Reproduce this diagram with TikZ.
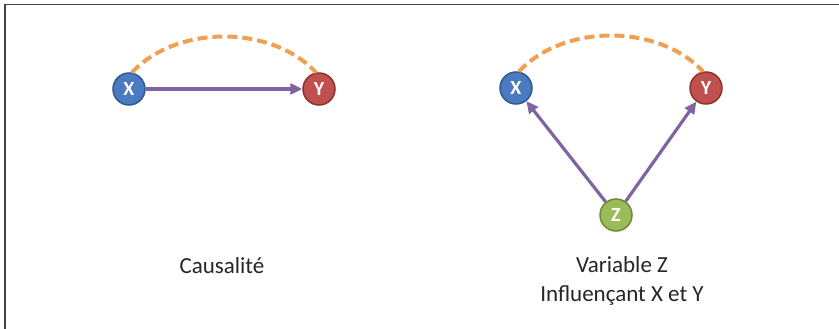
\documentclass[tikz,border=0pt]{standalone}
\usepackage{fontspec}
\setmainfont{Carlito}
\usetikzlibrary{arrows.meta}
\definecolor{xblue}{HTML}{4A7BC0}
\definecolor{xblueD}{HTML}{2F5A94}
\definecolor{yred}{HTML}{C0504D}
\definecolor{yredD}{HTML}{8C3330}
\definecolor{zgreen}{HTML}{9BBB59}
\definecolor{zgreenD}{HTML}{6E8A38}
\definecolor{purp}{HTML}{8064A2}
\definecolor{oran}{HTML}{F0A050}
\tikzset{
  ball/.style={circle, minimum size=32pt, inner sep=0pt, line width=1.5pt,
    text=white, font=\fontsize{20}{20}\selectfont\bfseries},
  arc/.style={draw=oran, line width=4pt, dash pattern=on 10pt off 5pt},
  arr/.style={draw=purp, line width=3.2pt, -{Triangle[length=12pt,width=11pt]}},
  lbl/.style={text=black!85, font=\fontsize{23}{29}\selectfont, inner sep=0pt, align=center},
  frameline/.style={draw=black!75, line width=1.6pt}
}
\begin{document}
\begin{tikzpicture}[x=1pt,y=-1pt]
\useasboundingbox (0,0) rectangle (839,329);
\fill[white] (0,0) rectangle (839,329);
\coordinate (c1) at (839,4.5);
\coordinate (c2) at (5,4.5);
\coordinate (c3) at (5,329);
\draw[frameline] (c1) -- (c2) -- (c3);

\node[ball, fill=xblue, draw=xblueD] (X1) at (129,89) {X};
\node[ball, fill=yred, draw=yredD] (Y1) at (319,89) {Y};
\draw[arc] (X1.80) .. controls +(45,-48) and +(-45,-48) .. (Y1.100);
\draw[arr] (X1) -- (Y1);

\node[ball, fill=xblue, draw=xblueD] (X2) at (516,88) {X};
\node[ball, fill=yred, draw=yredD] (Y2) at (706,88) {Y};
\node[ball, fill=zgreen, draw=zgreenD] (Z) at (616,215) {Z};
\draw[arc] (X2.80) .. controls +(45,-48) and +(-45,-48) .. (Y2.100);
\draw[arr] (Z) -- (X2);
\draw[arr] (Z) -- (Y2);

\node[lbl] (t1) at (222,266) {Causalité};
\node[lbl] (t2) at (622,281) {Variable Z\\Influençant X et Y};
\end{tikzpicture}
\end{document}
